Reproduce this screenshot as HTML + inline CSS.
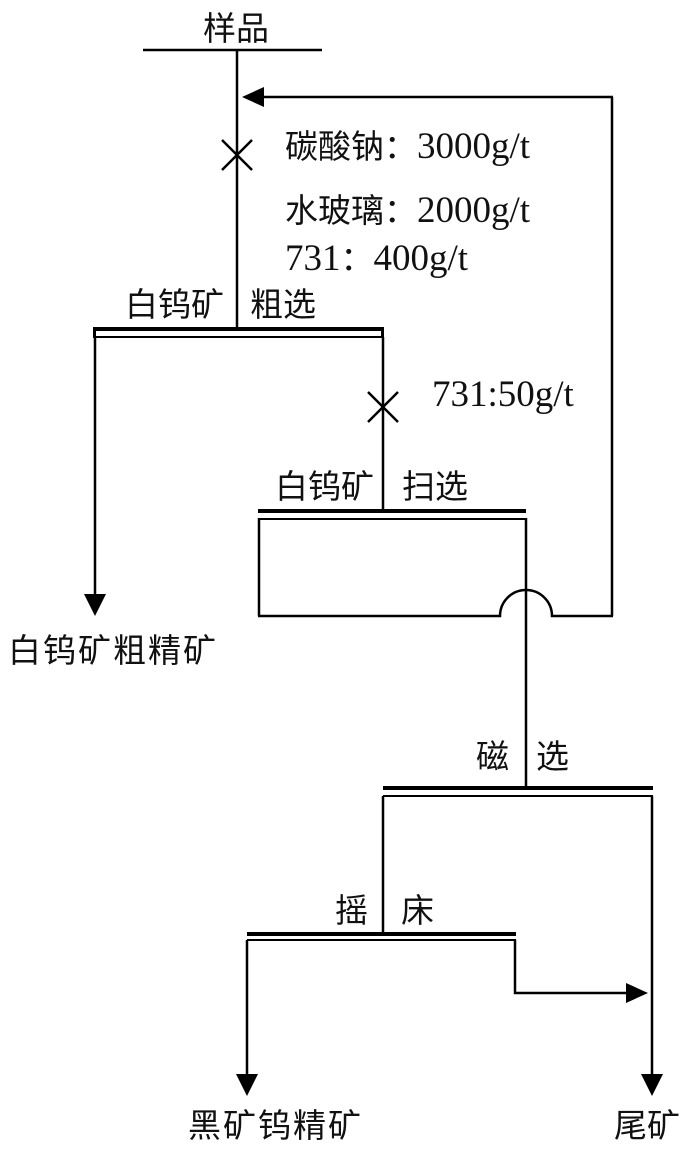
<!DOCTYPE html>
<html><head><meta charset="utf-8"><style>
body{margin:0;background:#fff;}
svg text{font-family:"Liberation Serif","Noto Sans CJK SC",serif;font-size:33px;fill:#111;}
.l{font-size:37px;}
</style></head><body>
<svg width="700" height="1155" viewBox="0 0 700 1155" xmlns="http://www.w3.org/2000/svg">
<g stroke="#000" stroke-width="2.5" fill="none">
<line x1="143" y1="50" x2="322" y2="50"/>
<line x1="237" y1="50" x2="237" y2="329"/>
<line x1="222" y1="140" x2="252" y2="170"/><line x1="252" y1="140" x2="222" y2="170"/>
<line x1="262" y1="97" x2="613" y2="97"/>
<line x1="612" y1="97" x2="612" y2="616"/>
<line x1="95" y1="337" x2="95" y2="595"/>
<line x1="383" y1="337" x2="383" y2="511"/>
<line x1="368" y1="392" x2="398" y2="422"/><line x1="398" y1="392" x2="368" y2="422"/>
<line x1="259" y1="518" x2="259" y2="616"/>
<path d="M258 616 H500 A26 26 0 0 1 552 616 H613"/>
<line x1="526" y1="518" x2="526" y2="790"/>
<line x1="383" y1="796" x2="383" y2="935"/>
<line x1="652" y1="796" x2="652" y2="1075"/>
<line x1="247" y1="940" x2="247" y2="1075"/>
<path d="M515 940 V993 H628"/>
</g>
<g fill="#000">
<rect x="93" y="327" width="291" height="4"/><rect x="93" y="336" width="291" height="2"/>
<rect x="93" y="327" width="3" height="11"/><rect x="381" y="327" width="3" height="11"/>
<rect x="258" y="509" width="268" height="4"/><rect x="258" y="518" width="268" height="2"/>
<rect x="383" y="786" width="270" height="4"/><rect x="383" y="795" width="270" height="2"/>
<rect x="247" y="932" width="269" height="4"/><rect x="247" y="939" width="269" height="2"/>
<polygon points="242,97 264,87 264,107"/>
<polygon points="84,594 106,594 95,616"/>
<polygon points="236,1074 258,1074 247,1096"/>
<polygon points="641,1074 663,1074 652,1096"/>
<polygon points="648,993 626,983 626,1003"/>
</g>
<text x="203" y="40">样品</text>
<text x="285" y="158">碳酸钠：<tspan class="l">3000g/t</tspan></text>
<text x="285" y="222">水玻璃：<tspan class="l">2000g/t</tspan></text>
<text x="285" y="270"><tspan class="l">731</tspan>：<tspan class="l">400g/t</tspan></text>
<text x="125" y="316">白钨矿</text><text x="250" y="316">粗选</text>
<text x="432" y="406" class="l">731:50g/t</text>
<text x="275" y="498">白钨矿</text><text x="402" y="498">扫选</text>
<text x="8" y="662" letter-spacing="2">白钨矿粗精矿</text>
<text x="476" y="768">磁</text><text x="536" y="768">选</text>
<text x="335" y="922">摇</text><text x="401" y="922">床</text>
<text x="188" y="1137" letter-spacing="2">黑矿钨精矿</text>
<text x="614" y="1137">尾矿</text>
</svg>
</body></html>
